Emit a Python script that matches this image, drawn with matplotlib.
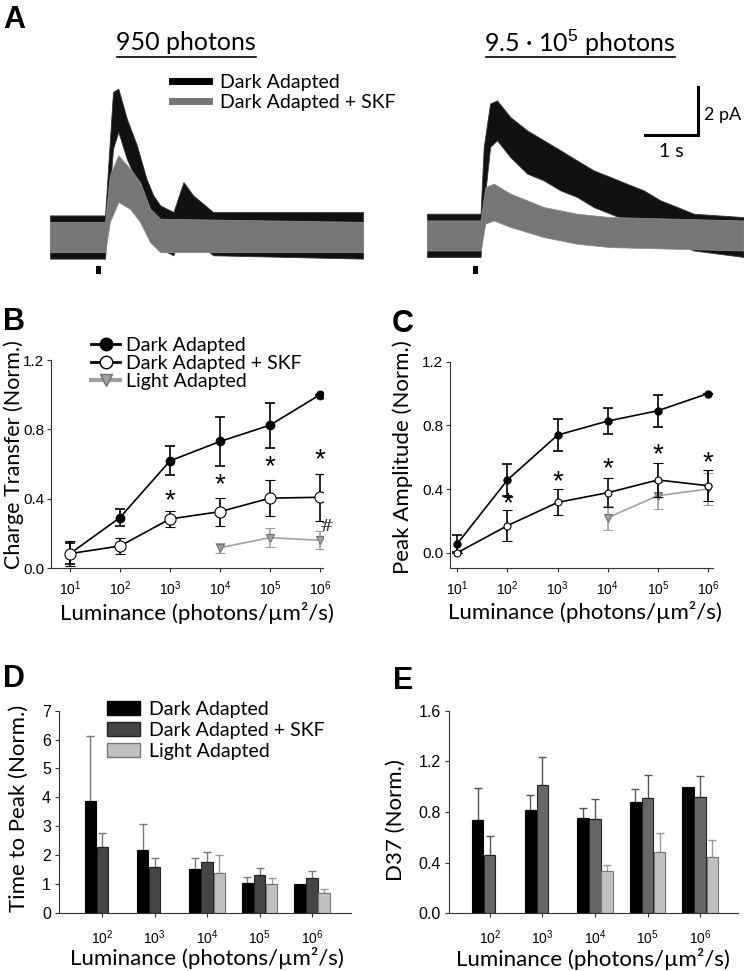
import numpy as np
import matplotlib
matplotlib.use("Agg")
import matplotlib.pyplot as plt
from matplotlib.lines import Line2D
from matplotlib.patches import Patch

plt.rcParams['mathtext.fontset'] = 'custom'
plt.rcParams['mathtext.rm'] = 'Liberation Sans'
plt.rcParams['mathtext.it'] = 'Liberation Sans:italic'

LBL = ['Lato', 'DejaVu Sans']
TCK = 'Liberation Sans'

W, H = 745, 971
fig = plt.figure(figsize=(W / 100, H / 100), dpi=100)


def px_axes(x0, y0, x1, y1):
    return fig.add_axes([x0 / W, 1 - y1 / H, (x1 - x0) / W, (y1 - y0) / H])


# ── Panel A: envelopes of the recorded traces (time in s, current in pA) ──────
a1_dark_t = [0, 1.04, 1.10, 1.19, 1.29, 1.45, 1.64, 1.82, 1.95, 2.08, 2.33, 2.52, 2.70, 3.08, 5.91]
a1_dark_hi = [0.90, 0.90, 2.99, 6.04, 6.18, 4.93, 3.82, 2.43, 1.74, 1.32, 1.04, 2.29, 1.74, 1.04, 1.04]
a1_dark_lo = [-0.90, -0.90, 1.18, 3.68, 4.38, 3.26, 2.29, 1.18, -0.07, -0.49, -0.76, 0.49, -0.07, -0.76, -0.90]
a1_skf_t = [0, 1.04, 1.13, 1.29, 1.51, 1.70, 1.89, 2.08, 5.91]
a1_skf_hi = [0.63, 0.63, 2.57, 3.40, 2.85, 2.29, 1.18, 0.76, 0.63]
a1_skf_lo = [-0.63, -0.63, 0.63, 1.46, 1.18, 0.63, -0.21, -0.63, -0.63]

a2_dark_t = [0, 1.01, 1.07, 1.19, 1.32, 1.57, 1.89, 2.20, 2.52, 2.83, 3.14, 3.46, 3.77, 4.09, 4.40, 4.72, 5.03, 5.97]
a2_dark_hi = [0.97, 0.97, 3.75, 5.56, 5.69, 5.0, 4.44, 4.03, 3.61, 3.19, 2.78, 2.5, 2.22, 1.94, 1.53, 1.25, 0.97, 0.83]
a2_dark_lo = [-0.83, -0.83, 1.25, 3.75, 4.03, 3.33, 2.64, 2.36, 1.94, 1.67, 1.25, 0.97, 0.69, 0.42, 0, -0.28, -0.56, -0.83]
a2_skf_t = [0, 1.01, 1.10, 1.26, 1.57, 2.20, 2.83, 3.46, 5.97]
a2_skf_hi = [0.69, 0.69, 2.08, 2.22, 1.81, 1.25, 0.97, 0.83, 0.69]
a2_skf_lo = [-0.56, -0.56, 0.56, 0.69, 0.42, 0, -0.28, -0.42, -0.56]

stim_on, stim_off = 0.87, 0.96

# ── Panels B / C ──────────────────────────────────────────────────────────────
lum = [1e1, 1e2, 1e3, 1e4, 1e5, 1e6]
lum_la = [1e4, 1e5, 1e6]

ct_dark = [0.083, 0.291, 0.618, 0.730, 0.824, 1.0]
ct_dark_err = [0.06, 0.05, 0.083, 0.14, 0.13, 0.0]
ct_skf = [0.083, 0.127, 0.283, 0.325, 0.403, 0.408]
ct_skf_err = [0.07, 0.046, 0.048, 0.08, 0.104, 0.137]
ct_la = [0.117, 0.175, 0.160]
ct_la_err = [0.028, 0.054, 0.051]
ct_star_x = [1e3, 1e4, 1e5, 1e6]
ct_star_y = [0.385, 0.478, 0.584, 0.622]

pa_dark = [0.057, 0.457, 0.739, 0.827, 0.892, 1.0]
pa_dark_err = [0.054, 0.10, 0.10, 0.083, 0.10, 0.0]
pa_skf = [0.0, 0.17, 0.316, 0.377, 0.457, 0.421]
pa_skf_err = [0.0, 0.097, 0.082, 0.092, 0.106, 0.097]
pa_la = [0.22, 0.358, 0.40]
pa_la_err = [0.075, 0.084, 0.10]
pa_star_x = [1e2, 1e3, 1e4, 1e5, 1e6]
pa_star_y = [0.306, 0.44, 0.524, 0.614, 0.561]

# ── Panels D / E ──────────────────────────────────────────────────────────────
groups = ['$10^2$', '$10^3$', '$10^4$', '$10^5$', '$10^6$']
ttp_dark = [3.88, 2.17, 1.51, 1.02, 1.00]
ttp_dark_err = [2.26, 0.89, 0.37, 0.20, 0.0]
ttp_skf = [2.26, 1.59, 1.74, 1.30, 1.19]
ttp_skf_err = [0.49, 0.32, 0.35, 0.26, 0.24]
ttp_la = [np.nan, np.nan, 1.36, 0.99, 0.70]
ttp_la_err = [np.nan, np.nan, 0.63, 0.22, 0.11]

d37_dark = [0.734, 0.813, 0.75, 0.879, 1.0]
d37_dark_err = [0.255, 0.119, 0.079, 0.103, 0.0]
d37_skf = [0.458, 1.011, 0.747, 0.908, 0.916]
d37_skf_err = [0.15, 0.221, 0.153, 0.187, 0.171]
d37_la = [np.nan, np.nan, 0.337, 0.482, 0.442]
d37_la_err = [np.nan, np.nan, 0.047, 0.155, 0.14]

C_TR_GRAY = '#767676'
C_LA = '#a0a0a0'
LAB_FS = 16
LEG_FS = 14

# ══════════════════════════════════════════════════════════════════════════════
# A
axA1 = px_axes(50, 80, 363, 280)
axA2 = px_axes(427, 80, 743, 280)
for ax, (dt, dh, dl, st, sh, sl) in zip(
        [axA1, axA2],
        [(a1_dark_t, a1_dark_hi, a1_dark_lo, a1_skf_t, a1_skf_hi, a1_skf_lo),
         (a2_dark_t, a2_dark_hi, a2_dark_lo, a2_skf_t, a2_skf_hi, a2_skf_lo)]):
    ax.fill_between(dt, dl, dh, color='#111111', lw=0.6, edgecolor='#333333')
    ax.fill_between(st, sl, sh, color=C_TR_GRAY, lw=0.6, edgecolor='#8a8a8a')
    ax.fill_between([stim_on, stim_off], [-1.54, -1.54], [-1.21, -1.21], color='black', lw=0)
    ax.set_ylim(-1.79, 6.54)
    ax.axis('off')
axA1.set_xlim(0, 5.91)
axA2.set_xlim(0, 5.96)

# scale bar
axA2.plot([4.11, 5.11, 5.11], [4.25, 4.25, 6.25], color='black', lw=2.2,
          solid_joinstyle='miter', clip_on=False)
axA2.text(5.22, 5.1, '2 pA', family=LBL, fontsize=13, va='center', ha='left', clip_on=False)
axA2.text(4.6, 3.55, '1 s', family=LBL, fontsize=14, va='center', ha='center')

# titles (underlined)
fig.text(186 / W, 1 - 43 / H, '950 photons', family=LBL, fontsize=18, ha='center', va='center')
fig.add_artist(Line2D([117 / W, 256 / W], [1 - 57 / H] * 2, color='black', lw=1.2))
fig.text(580 / W, 1 - 43 / H, '9.5 · 10$^{5}$ photons', family=LBL, fontsize=18,
         ha='center', va='center')
fig.add_artist(Line2D([486 / W, 675 / W], [1 - 57 / H] * 2, color='black', lw=1.2))

# legend A
fig.legend(handles=[Line2D([], [], color='black', lw=5),
                    Line2D([], [], color=C_TR_GRAY, lw=5)],
           labels=['Dark Adapted', 'Dark Adapted + SKF'],
           loc='upper left', bbox_to_anchor=(172 / W, 1 - 74 / H), frameon=False,
           prop={'family': LBL, 'size': LEG_FS}, handlelength=1.9, handletextpad=0.55,
           labelspacing=0.15, borderaxespad=0, borderpad=0)


# ══════════════════════════════════════════════════════════════════════════════
def style_axes(ax):
    for s in ['top', 'right']:
        ax.spines[s].set_visible(False)
    for s in ['left', 'bottom']:
        ax.spines[s].set_linewidth(0.8)
        ax.spines[s].set_color('#333333')
    ax.tick_params(direction='out', length=3, width=0.8, colors='#333333',
                   labelcolor='black', labelsize=10)
    for lab in ax.get_xticklabels() + ax.get_yticklabels():
        lab.set_family(TCK)
    for lab in ax.get_yticklabels():
        lab.set_fontsize(11)


def line_panel(ax, dark, dark_err, skf, skf_err, la, la_err, sx, sy, ms_dark, ms_open):
    ax.set_xscale('log')
    ax.errorbar(lum, dark, yerr=dark_err, color='black', lw=1.2, capsize=3.5,
                elinewidth=1.2, capthick=1.2, marker='o', ms=ms_dark, mfc='black',
                mec='black', zorder=3)
    ax.errorbar(lum, skf, yerr=skf_err, color='black', lw=1.2, capsize=3.5,
                elinewidth=1.2, capthick=1.2, marker='o', ms=ms_open, mfc='white',
                mec='black', mew=0.8, zorder=4)
    ax.errorbar(lum_la, la, yerr=la_err, color=C_LA, lw=1.2, capsize=3.5,
                elinewidth=1.2, capthick=1.2, marker='v', ms=6, mfc=C_LA,
                mec='#707070', mew=0.8, zorder=2)
    for x, y in zip(sx, sy):
        ax.text(x, y, '*', family=TCK, fontsize=20, ha='center', va='center')
    ax.set_xticks(lum)
    ax.minorticks_off()
    ax.set_yticks([0.0, 0.4, 0.8, 1.2])
    ax.set_yticklabels(['0.0', '0.4', '0.8', '1.2'])
    style_axes(ax)
    ax.tick_params(axis='x', pad=5)
    ax.tick_params(axis='y', pad=2)


# B
axB = px_axes(51, 360, 323, 568)
line_panel(axB, ct_dark, ct_dark_err, ct_skf, ct_skf_err, ct_la, ct_la_err,
           ct_star_x, ct_star_y, 6, 8)
axB.set_xlim(10 ** 0.62, 10 ** 6.06)
axB.set_ylim(0, 1.2)
axB.text(10 ** 6.13, 0.237, '#', family='DejaVu Serif', fontstyle='italic',
         fontsize=12, ha='center', va='center', color='#333333')
axB.set_ylabel('Charge Transfer (Norm.)', family=LBL, fontsize=15.5)
axB.yaxis.set_label_coords(-0.10, 0.545)
axB.set_xlabel('Luminance (photons/µm²/s)', family=LBL, fontsize=LAB_FS)
axB.xaxis.set_label_coords(0.537, -0.165)

fig.legend(handles=[Line2D([], [], color='black', lw=2, marker='o', ms=9, mfc='black'),
                    Line2D([], [], color='black', lw=2, marker='o', ms=9, mfc='white'),
                    Line2D([], [], color=C_LA, lw=3, marker='v', ms=9, mfc=C_LA, mec='#707070')],
           labels=['Dark Adapted', 'Dark Adapted + SKF', 'Light Adapted'],
           loc='upper left', bbox_to_anchor=(91 / W, 1 - 337 / H), frameon=False,
           prop={'family': LBL, 'size': LEG_FS}, handlelength=1.5, handletextpad=0.3,
           labelspacing=0.05, borderaxespad=0, borderpad=0)

# C
axC = px_axes(450, 361.7, 713, 568.3)
line_panel(axC, pa_dark, pa_dark_err, pa_skf, pa_skf_err, pa_la, pa_la_err,
           pa_star_x, pa_star_y, 5, 5)
axC.set_xlim(10 ** 0.854, 10 ** 6.1)
axC.set_ylim(-0.098, 1.2)
axC.set_ylabel('Peak Amplitude (Norm.)', family=LBL, fontsize=LAB_FS)
axC.yaxis.set_label_coords(-0.142, 0.539)
axC.set_xlabel('Luminance (photons/µm²/s)', family=LBL, fontsize=LAB_FS)
axC.xaxis.set_label_coords(0.513, -0.16)


# ══════════════════════════════════════════════════════════════════════════════
def bar_panel(ax, dark, dark_err, skf, skf_err, la, la_err, c_skf, c_err):
    x = np.arange(len(groups))
    pitch, bw = 0.23, 0.215
    series = [(dark, dark_err, -pitch, 'black', 'black'),
              (skf, skf_err, 0, c_skf, '#222222'),
              (la, la_err, pitch, '#c0c0c0', '#777777')]
    for vals, errs, off, fc, ec in series:
        vals = np.asarray(vals, float)
        errs = np.asarray(errs, float)
        ok = ~np.isnan(vals)
        ax.bar(x[ok] + off, vals[ok], width=bw, color=fc, edgecolor=ec, lw=0.8, zorder=2)
        ek = ok & (errs > 0)
        ecol = '#999999' if fc == '#c0c0c0' else c_err
        ax.errorbar(x[ek] + off, vals[ek], yerr=[np.zeros(ek.sum()), errs[ek]],
                    fmt='none', ecolor=ecol, elinewidth=1.0, capsize=3, capthick=1.0, zorder=1)
    ax.set_xticks(x)
    ax.set_xticklabels(groups)
    style_axes(ax)
    ax.tick_params(axis='x', pad=8)
    ax.tick_params(axis='y', pad=3)


# D
axD = px_axes(59.3, 710.7, 350.7, 912.7)
bar_panel(axD, ttp_dark, ttp_dark_err, ttp_skf, ttp_skf_err, ttp_la, ttp_la_err,
          '#454545', '#777777')
axD.set_xlim(-0.82, 4.74)
axD.set_ylim(0, 7)
axD.set_yticks(range(8))
for lab in axD.get_yticklabels():
    lab.set_family(TCK)
    lab.set_fontsize(11.5)
axD.set_ylabel('Time to Peak (Norm.)', family=LBL, fontsize=LAB_FS)
axD.yaxis.set_label_coords(-0.105, 0.518)
axD.set_xlabel('Luminance (photons/µm²/s)', family=LBL, fontsize=LAB_FS)
axD.xaxis.set_label_coords(0.507, -0.172)

fig.legend(handles=[Patch(facecolor='black', edgecolor='black'),
                    Patch(facecolor='#454545', edgecolor='#222222'),
                    Patch(facecolor='#c0c0c0', edgecolor='#777777')],
           labels=['Dark Adapted', 'Dark Adapted + SKF', 'Light Adapted'],
           loc='upper left', bbox_to_anchor=(107 / W, 1 - 701 / H), frameon=False,
           prop={'family': LBL, 'size': LEG_FS}, handlelength=1.7, handleheight=0.75,
           handletextpad=0.45, labelspacing=0.2, borderaxespad=0, borderpad=0)

# E
axE = px_axes(449.3, 710.7, 738, 913.3)
bar_panel(axE, d37_dark, d37_dark_err, d37_skf, d37_skf_err, d37_la, d37_la_err,
          '#666666', '#555555')
axE.set_xlim(-0.77, 4.72)
axE.set_ylim(0, 1.6)
axE.set_yticks([0.0, 0.4, 0.8, 1.2, 1.6])
axE.set_yticklabels(['0.0', '0.4', '0.8', '1.2', '1.6'])
for lab in axE.get_yticklabels():
    lab.set_family(TCK)
    lab.set_fontsize(11.5)
axE.set_ylabel('D37 (Norm.)', family=LBL, fontsize=LAB_FS)
axE.yaxis.set_label_coords(-0.15, 0.46)
axE.set_xlabel('Luminance (photons/µm²/s)', family=LBL, fontsize=LAB_FS)
axE.xaxis.set_label_coords(0.498, -0.17)

# panel letters
for lx, ly, t in [(3, 5, 'A'), (3, 307, 'B'), (392, 309, 'C'), (3, 664, 'D'), (393, 666, 'E')]:
    fig.text(lx / W, 1 - ly / H, t, family='Liberation Sans', fontweight='bold',
             fontsize=22, ha='left', va='top')

fig.savefig('out.png', dpi=100, facecolor='white')
